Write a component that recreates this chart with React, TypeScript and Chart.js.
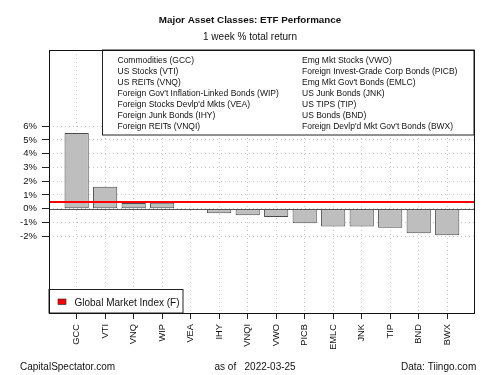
import React, { useEffect, useRef } from "react";
import { Chart, registerables } from "chart.js";

Chart.register(...registerables);

const tickers = ["GCC", "VTI", "VNQ", "WIP", "VEA", "IHY", "VNQI", "VWO", "PICB", "EMLC", "JNK", "TIP", "BND", "BWX"];
const returns = [5.5, 1.6, 0.41, 0.44, 0.0, -0.33, -0.47, -0.6, -1.06, -1.3, -1.3, -1.38, -1.79, -1.93];
const globalMarketIndex = 0.48;
const yTicks = [-2, -1, 0, 1, 2, 3, 4, 5, 6];
const legendLeft = [
  "Commodities (GCC)",
  "US Stocks (VTI)",
  "US REITs (VNQ)",
  "Foreign Gov't Inflation-Linked Bonds (WIP)",
  "Foreign Stocks Devlp'd Mkts (VEA)",
  "Foreign Junk Bonds (IHY)",
  "Foreign REITs (VNQI)",
];
const legendRight = [
  "Emg Mkt Stocks (VWO)",
  "Foreign Invest-Grade Corp Bonds (PICB)",
  "Emg Mkt Gov't Bonds (EMLC)",
  "US Junk Bonds (JNK)",
  "US TIPS (TIP)",
  "US Bonds (BND)",
  "Foreign Devlp'd Mkt Gov't Bonds (BWX)",
];
const title = "Major Asset Classes: ETF Performance";
const subtitle = "1 week % total return";
const footerLeft = "CapitalSpectator.com";
const footerMid = "as of   2022-03-25";
const footerRight = "Data: Tiingo.com";
const gmiLabel = "Global Market Index (F)";

const FONT = "'Liberation Sans', Arial, sans-serif";

export default function App() {
  const ref = useRef<HTMLCanvasElement | null>(null);

  useEffect(() => {
    if (!ref.current) return;
    const overlay = {
      id: "overlay",
      afterDatasetsDraw(chart: any) {
        const ctx = chart.ctx as CanvasRenderingContext2D;
        const a = chart.chartArea;
        const ys = chart.scales.y;
        ctx.save();
        // zero line
        const y0 = Math.round(ys.getPixelForValue(0)) + 0.5;
        ctx.strokeStyle = "#555";
        ctx.lineWidth = 1;
        ctx.beginPath();
        ctx.moveTo(a.left, y0);
        ctx.lineTo(a.right, y0);
        ctx.stroke();
        // global market index line
        const yg = ys.getPixelForValue(globalMarketIndex);
        ctx.strokeStyle = "#ff0000";
        ctx.lineWidth = 2;
        ctx.beginPath();
        ctx.moveTo(a.left, yg);
        ctx.lineTo(a.right, yg);
        ctx.stroke();

        // top legend box
        const lx = 102.5, ly = a.top, lw = a.right - 102.5, lh = 85;
        ctx.fillStyle = "#fff";
        ctx.fillRect(lx, ly, lw, lh);
        ctx.strokeStyle = "#222";
        ctx.lineWidth = 1;
        ctx.strokeRect(lx, ly, lw, lh);
        ctx.fillStyle = "#111";
        ctx.font = `8.5px ${FONT}`;
        ctx.textBaseline = "middle";
        ctx.textAlign = "left";
        for (let i = 0; i < legendLeft.length; i++) {
          ctx.fillText(legendLeft[i], 117.5, 61 + i * 10.9);
        }
        for (let i = 0; i < legendRight.length; i++) {
          ctx.fillText(legendRight[i], 302, 61 + i * 10.9);
        }

        // bottom legend box
        const bx = a.left, by = 289.5, bw = 134, bh = a.bottom - 289.5;
        ctx.fillStyle = "#fff";
        ctx.fillRect(bx, by, bw, bh);
        ctx.strokeStyle = "#222";
        ctx.strokeRect(bx, by, bw, bh);
        ctx.fillStyle = "#ff0000";
        ctx.fillRect(58, 299, 8, 5.5);
        ctx.strokeStyle = "#222";
        ctx.lineWidth = 0.6;
        ctx.strokeRect(58, 299, 8, 5.5);
        ctx.fillStyle = "#111";
        ctx.font = `10px ${FONT}`;
        ctx.fillText(gmiLabel, 74.5, 303);

        // plot border
        ctx.strokeStyle = "#111";
        ctx.lineWidth = 1;
        ctx.strokeRect(Math.round(a.left) + 0.5, Math.round(a.top) + 0.5, Math.round(a.right - a.left), Math.round(a.bottom - a.top));

        // titles
        ctx.textAlign = "center";
        ctx.font = `bold 9.8px ${FONT}`;
        ctx.fillText(title, 250, 20);
        ctx.font = `10px ${FONT}`;
        ctx.fillText(subtitle, 250, 37);

        // footer
        ctx.textAlign = "left";
        ctx.fillText(footerLeft, 20, 367);
        ctx.fillText(footerMid, 214.5, 367);
        ctx.fillText(footerRight, 401, 367);
        ctx.restore();
      },
    };

    const chart = new Chart(ref.current, {
      type: "bar",
      data: {
        datasets: [
          {
            data: returns.map((v, i) => ({ x: i, y: v })),
            backgroundColor: "#bebebe",
            borderColor: "#4a4a4a",
            borderWidth: 1,
            borderSkipped: false,
            categoryPercentage: 1,
            barPercentage: 0.85,
          },
        ],
      },
      options: {
        responsive: false,
        animation: false,
        layout: { padding: { top: 50, right: 26, left: 0, bottom: 0 } },
        plugins: { legend: { display: false }, tooltip: { enabled: false } },
        scales: {
          x: {
            type: "linear",
            offset: false,
            min: -0.97,
            max: 13.94,
            afterBuildTicks: (s: any) => {
              s.ticks = tickers.map((_, i) => ({ value: i }));
            },
            afterFit: (s: any) => {
              s.height = 62;
            },
            border: { display: false, dash: [1, 3] },
            grid: {
              offset: false,
              color: "#c8c8c8",
              lineWidth: 1,
              tickLength: 6,
              tickColor: "#222",
              tickBorderDash: [],
            },
            ticks: {
              autoSkip: false,
              minRotation: 90,
              maxRotation: 90,
              padding: 5,
              color: "#111",
              font: { family: FONT, size: 9.3 },
              callback: (v: any) => tickers[v] ?? "",
            },
          },
          y: {
            min: -7.585,
            max: 11.54,
            afterBuildTicks: (s: any) => {
              s.ticks = yTicks.map((v) => ({ value: v }));
            },
            afterFit: (s: any) => {
              s.width = 49;
            },
            border: { display: false, dash: [1, 3] },
            grid: {
              color: "#c8c8c8",
              lineWidth: 1,
              tickLength: 7,
              tickColor: "#222",
              tickBorderDash: [],
            },
            ticks: {
              padding: 5,
              color: "#111",
              font: { family: FONT, size: 9.5 },
              callback: (v: any) => `${v}%`,
            },
          },
        },
      },
      plugins: [overlay],
    } as any);
    return () => chart.destroy();
  }, []);

  return (
    <div style={{ position: "fixed", left: 0, top: 0, width: 500, height: 375, background: "#fff" }}>
      <canvas ref={ref} width={500} height={375} style={{ width: 500, height: 375 }} />
    </div>
  );
}
